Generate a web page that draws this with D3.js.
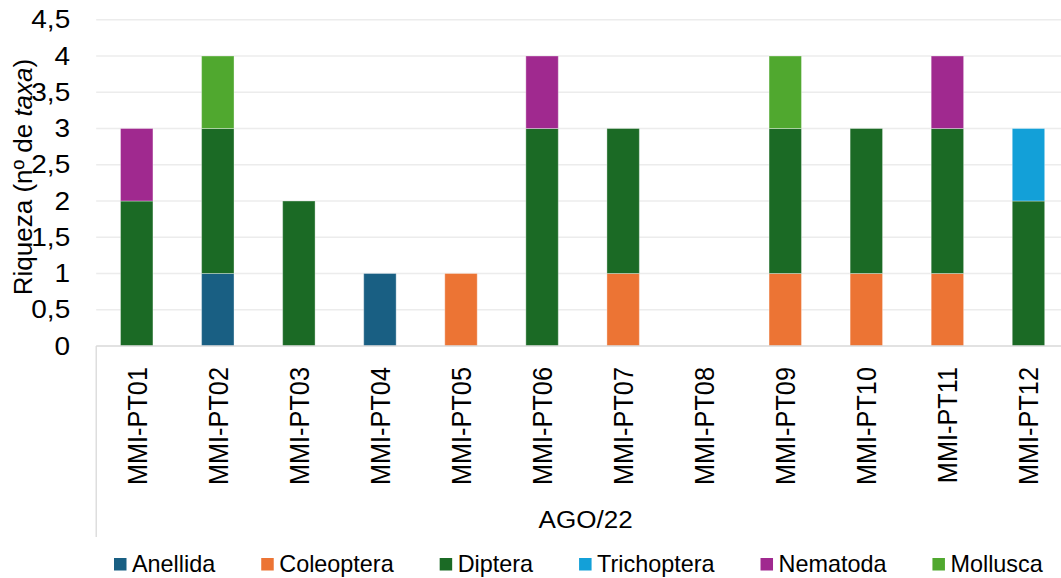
<!DOCTYPE html>
<html><head><meta charset="utf-8">
<script src="https://cdn.jsdelivr.net/npm/d3@7"></script>
<style>body{margin:0;background:#fff}svg{display:block;font-family:"Liberation Sans",Arial,sans-serif}</style>
</head><body><svg id="c" width="1061" height="578"></svg>
<script>
const categories = ["MMI-PT01","MMI-PT02","MMI-PT03","MMI-PT04","MMI-PT05","MMI-PT06","MMI-PT07","MMI-PT08","MMI-PT09","MMI-PT10","MMI-PT11","MMI-PT12"];
const seriesNames = ["Anellida","Coleoptera","Diptera","Trichoptera","Nematoda","Mollusca"];
const anellida    = [0,1,0,1,0,0,0,0,0,0,0,0];
const coleoptera  = [0,0,0,0,1,0,1,0,1,1,1,0];
const diptera     = [2,2,2,0,0,3,2,0,2,2,2,2];
const trichoptera = [0,0,0,0,0,0,0,0,0,0,0,1];
const nematoda    = [1,0,0,0,0,1,0,0,0,0,1,0];
const mollusca    = [0,1,0,0,0,0,0,0,1,0,0,0];
const yTicks = [0,0.5,1,1.5,2,2.5,3,3.5,4,4.5];
const groupLabel = "AGO/22";
const colors = ["#195f83","#ec7434","#1b6a25","#13a0d8","#a0298f","#50a82f"];

const seriesValues = [anellida,coleoptera,diptera,trichoptera,nematoda,mollusca];
const table = categories.map((c,i)=>{const o={cat:c};seriesNames.forEach((s,j)=>o[s]=seriesValues[j][i]);return o;});
const stack = d3.stack().keys(seriesNames)(table);

const svg = d3.select("#c");
const L=96.2, R=1069, T=19.75, B=346;
const SX = 1.12;
const x = d3.scaleBand().domain(categories).range([L,R]).paddingInner(0.6).paddingOuter(0.3);
const y = d3.scaleLinear().domain([0,4.5]).range([B,T]);
const fmt = v => String(v).replace(".",",");

// gridlines
svg.append("g").selectAll("line").data(yTicks.filter(t=>t>0)).join("line")
  .attr("x1",L).attr("x2",R).attr("y1",d=>y(d)).attr("y2",d=>y(d))
  .attr("stroke","#ececec").attr("stroke-width",1.3);

// y tick labels
const ya = svg.append("g").attr("transform",`translate(${L},0)`)
  .call(d3.axisLeft(y).tickValues(yTicks).tickFormat(fmt).tickSize(0).tickPadding(26));
ya.select(".domain").remove();
ya.selectAll("text").attr("font-size",25).attr("fill","#000").attr("font-family","Liberation Sans, Arial, sans-serif")
  .attr("x",0).attr("transform",`translate(-26,0) scale(${SX},1)`);

// bars
svg.append("g").selectAll("g").data(stack).join("g").attr("fill",(d,i)=>colors[i])
  .selectAll("rect").data(d=>d.filter(p=>p[1]-p[0]>0)).join("rect")
  .attr("x",d=>x(d.data.cat)).attr("width",x.bandwidth())
  .attr("y",d=>y(d[1])).attr("height",d=>y(d[0])-y(d[1]))
  .attr("stroke","rgba(255,255,255,0.35)").attr("stroke-width",1);

// axes lines
svg.append("line").attr("x1",L).attr("x2",R).attr("y1",B).attr("y2",B).attr("stroke","#d9d9d9").attr("stroke-width",1.3);
svg.append("line").attr("x1",L).attr("x2",L).attr("y1",B).attr("y2",537).attr("stroke","#d9d9d9").attr("stroke-width",1.3);

// category labels
const xa = svg.append("g").attr("transform",`translate(0,${B})`)
  .call(d3.axisBottom(x).tickSize(0));
xa.select(".domain").remove();
xa.selectAll("text").attr("font-size",25.3).attr("fill","#000").attr("font-family","Liberation Sans, Arial, sans-serif")
  .attr("transform",`rotate(-90) scale(1,${SX})`).attr("text-anchor","end").attr("dy","0.35em").attr("x",-21).attr("y",0);

// group label
svg.append("text").attr("transform",`translate(${(L+R)/2+3},528) scale(${SX},1)`).attr("text-anchor","middle").attr("font-size",23.3).text(groupLabel);

// y title
const yt = svg.append("text").attr("transform",`translate(32,${177}) rotate(-90)`).attr("text-anchor","middle").attr("font-size",26);
yt.append("tspan").text("Riqueza (nº de ");
yt.append("tspan").attr("font-style","italic").text("taxa");
yt.append("tspan").text(")");

// legend
let lx = 114;
const lg = svg.append("g");
seriesNames.forEach((s,i)=>{
  lg.append("rect").attr("x",lx).attr("y",558).attr("width",12.5).attr("height",12.5).attr("fill",colors[i]);
  const t = lg.append("text").attr("x",lx+18).attr("y",572).attr("font-size",23.4).text(s);
  lx += 18 + t.node().getComputedTextLength() + 46;
});
</script></body></html>
